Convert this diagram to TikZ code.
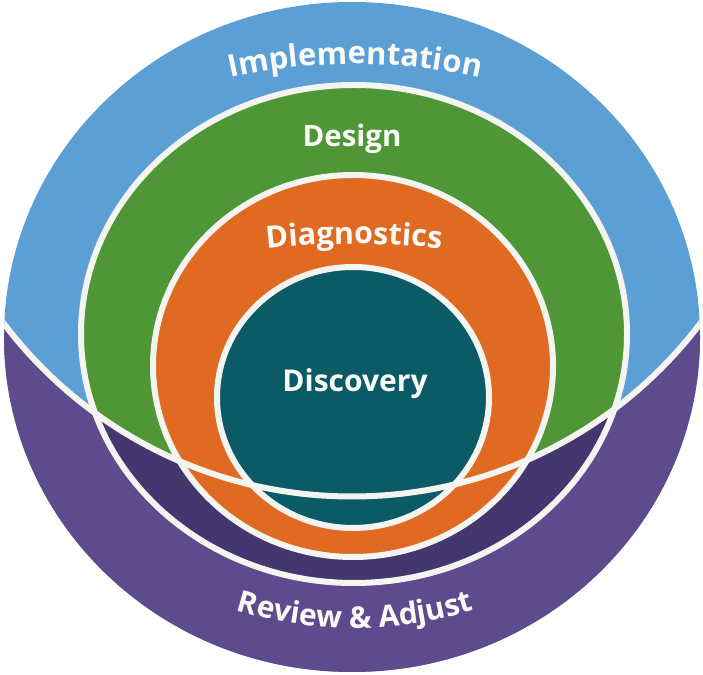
\documentclass[tikz,border=0pt]{standalone}
\usepackage{fontspec}
\newfontfamily\lab{Open Sans}
\usetikzlibrary{decorations.text}
\definecolor{cblue}{HTML}{5B9FD4}
\definecolor{cpurple}{HTML}{5E4B8E}
\definecolor{cdpurple}{HTML}{44366F}
\definecolor{cgreen}{HTML}{4F9637}
\definecolor{corange}{HTML}{E06A21}
\definecolor{cteal}{HTML}{0B5B66}
\definecolor{cline}{HTML}{F4F4F0}
\definecolor{ctext}{HTML}{FAFAF7}
\def\lowregion{(-85,614.5) arc[start angle=180,end angle=360,radius=437] -- (789,-50) -- (-85,-50) -- cycle}
\def\outerE{(352,337) ellipse [x radius=348, y radius=335]}
\def\greenE{(354,340) ellipse [x radius=273, y radius=249]}
\def\orangeE{(353,308) ellipse [x radius=200, y radius=191]}
\def\tealE{(353,276.5) ellipse [x radius=136, y radius=130.5]}
\tikzset{
  wline/.style={draw=cline, line width=6pt},
  lbl/.style={text=ctext, font=\lab\bfseries\fontsize{#1}{#1}\selectfont, inner sep=0pt},
  curvedlabel/.style={decorate, decoration={text along path, text align=center, text color=ctext}}
}
\begin{document}
\begin{tikzpicture}[x=1pt,y=1pt]
\useasboundingbox (0,0) rectangle (703,674);
% fills
\fill[cblue] \outerE;
\begin{scope}
  \clip \lowregion;
  \fill[cpurple] \outerE;
\end{scope}
\fill[cgreen] \greenE;
\begin{scope}
  \clip \lowregion;
  \fill[cdpurple] \greenE;
\end{scope}
\fill[corange] \orangeE;
\fill[cteal] \tealE;
% white lines
\draw[wline] \greenE;
\draw[wline] \orangeE;
\draw[wline] \tealE;
\begin{scope}
  \clip \outerE;
  \draw[wline] (-85,614.5) arc[start angle=180,end angle=360,radius=437];
\end{scope}
% curved labels
\path[curvedlabel, decoration={text={|\lab\bfseries\fontsize{31}{31}\selectfont|Implementation}}]
  (355,45) ++(106:565) arc[start angle=106, end angle=74, radius=565];
\path[curvedlabel, decoration={text={|\lab\bfseries\fontsize{30.5}{30.5}\selectfont|Diagnostics}}]
  (354,-370) ++(98:800) arc[start angle=98, end angle=82, radius=800];
\path[curvedlabel, decoration={text={|\lab\bfseries\fontsize{30}{30}\selectfont|Review {\&} Adjust}}]
  (355,446) ++(240:400) arc[start angle=240, end angle=300, radius=400];
% straight labels
\node[lbl=29.5, anchor=base] (design) at (352,527) {Design};
\node[lbl=30, anchor=base] (discovery) at (355,282) {Discovery};
\end{tikzpicture}
\end{document}
